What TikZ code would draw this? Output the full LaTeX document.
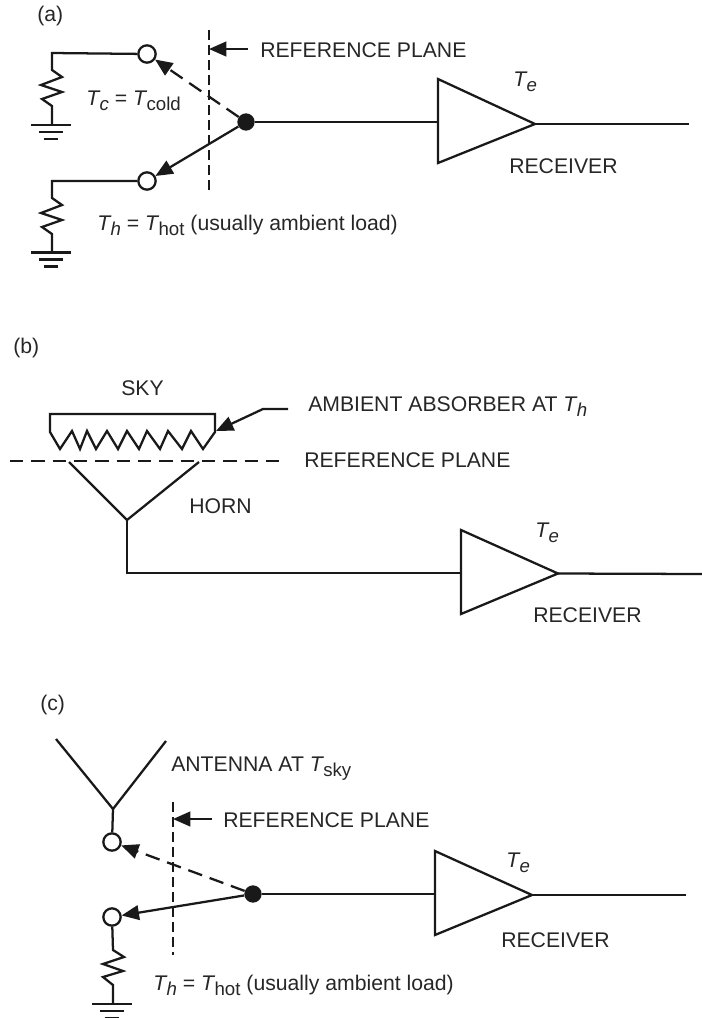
\documentclass[tikz,border=0pt]{standalone}
\usepackage{fontspec}
\setmainfont{Liberation Sans}
\usetikzlibrary{arrows.meta}
\newcommand{\Tsub}[2]{\textit{#1}\kern-0.6pt\raisebox{-3.75pt}{\fontsize{14pt}{16pt}\selectfont #2}}
\tikzset{
  x=0.75pt,y=-0.75pt,
  wire/.style={draw=black!90,line width=1.7pt,line join=miter},
  planeline/.style={wire,dash pattern=on 7.5pt off 3.75pt},
  skyline/.style={wire,dash pattern=on 10pt off 6pt},
  swdash/.style={wire,dash pattern=on 11pt off 6pt},
  tip/.style={-{Triangle[length=13pt,width=11pt]}},
  opencirc/.style={circle,draw=black!90,fill=white,line width=1.7pt,minimum size=13pt,inner sep=0pt},
  solidcirc/.style={circle,fill=black!90,minimum size=13pt,inner sep=0pt},
  lbl/.style={anchor=base west,inner sep=0pt,font=\fontsize{15.9pt}{18pt}\selectfont,text=black!85}
}
\newcommand{\groundat}[3]{% x, y, name prefix
  \coordinate (#3) at (#1,#2);
  \draw[wire] ([xshift=-15pt]#3) -- ([xshift=15pt]#3);
  \draw[wire] ([xshift=-9pt,yshift=-5.25pt]#3) -- ([xshift=9pt,yshift=-5.25pt]#3);
  \draw[wire] ([xshift=-5.6pt,yshift=-10.5pt]#3) -- ([xshift=5.6pt,yshift=-10.5pt]#3);
}
\begin{document}
\begin{tikzpicture}
\useasboundingbox (0,0) rectangle (702,1018);
% ---------- (a)
\node[lbl] (la) at (37,21) {(a)};
\node[opencirc] (a1) at (147,54) {};
\node[opencirc] (a2) at (147,181) {};
\node[solidcirc] (as) at (246,122) {};
\coordinate (a1c) at (52,53);
\coordinate (a2c) at (52,181);
\draw[wire] (a1) -- (a1c) -- (52,70) -- (62,77) -- (41,85) -- (62,92) -- (42,99) -- (52,106) -- (52,125);
\groundat{51}{125}{ag1}
\draw[wire] (a2) -- (a2c) -- (52,198) -- (62,205) -- (41,213) -- (62,220) -- (42,227) -- (52,234) -- (52,252.5);
\groundat{51}{252.5}{ag2}
\draw[swdash,tip] (as) -- (a1);
\draw[wire,tip] (as) -- (a2);
\coordinate (ap1) at (209,30);
\coordinate (ap2) at (209,190);
\draw[planeline] (ap1) -- (ap2);
\coordinate (apa) at (248,49);
\coordinate (apb) at (209,49);
\draw[wire,tip] (apa) -- (apb);
\coordinate (aA1) at (438,79);
\coordinate (aA2) at (438,163);
\coordinate (aA3) at (535,124);
\coordinate (aIn) at (438,122);
\coordinate (aOut) at (689,124);
\draw[wire] (as) -- (aIn);
\draw[wire] (aA1) -- (aA2) -- (aA3) -- cycle;
\draw[wire] (aA3) -- (aOut);
\node[lbl] (lap) at (260,57) {REFERENCE PLANE};
\node[lbl] (lac) at (86,105) {\Tsub{T}{\textit{c}} = \Tsub{T}{cold}};
\node[lbl] (lah) at (97,230) {\Tsub{T}{\textit{h}} = \Tsub{T}{hot} (usually ambient load)};
\node[lbl] (lae) at (513,86) {\Tsub{T}{\textit{e}}};
\node[lbl] (lar) at (509,173) {RECEIVER};
% ---------- (b)
\node[lbl] (lb) at (13,353) {(b)};
\node[lbl] (lsky) at (121,395) {SKY};
\draw[wire] (50,432) -- (50,414) -- (215,414) -- (215,432)
  -- (203,449) -- (191,431) -- (182,449) -- (168,431) -- (160,449) -- (147,431) -- (139,449) -- (127,431) -- (118,449) -- (107,431) -- (96,449) -- (87,431) -- (80,449) -- (72,431) -- (60,449) -- cycle;
\coordinate (bd1) at (10,461);
\coordinate (bd2) at (280,461);
\draw[skyline] (bd1) -- (bd2);
\coordinate (bh1) at (69,462);
\coordinate (bh2) at (127,520);
\coordinate (bh3) at (199,462);
\coordinate (bc) at (127,573);
\draw[wire] (bh1) -- (bh2) -- (bh3);
\coordinate (bA1) at (461,530);
\coordinate (bA2) at (461,614);
\coordinate (bA3) at (558,573.5);
\coordinate (bIn) at (461,573);
\coordinate (bOut) at (702,574);
\draw[wire] (bh2) -- (bc) -- (bIn);
\draw[wire] (bA1) -- (bA2) -- (bA3) -- cycle;
\draw[wire] (bA3) -- (bOut);
\coordinate (bar1) at (288,409);
\coordinate (bar2) at (263,409);
\coordinate (bar3) at (216,431);
\draw[wire,tip] (bar1) -- (bar2) -- (bar3);
\node[lbl] (lba) at (308,411) {AMBIENT ABSORBER AT \Tsub{T}{\textit{h}}};
\node[lbl] (lbp) at (304,467) {REFERENCE PLANE};
\node[lbl] (lbh) at (189,513) {HORN};
\node[lbl] (lbe) at (535,537) {\Tsub{T}{\textit{e}}};
\node[lbl] (lbr) at (533,622) {RECEIVER};
% ---------- (c)
\node[lbl] (lc) at (40,710) {(c)};
\coordinate (cy1) at (56,739);
\coordinate (cy2) at (113,809);
\coordinate (cy3) at (166,741);
\draw[wire] (cy1) -- (cy2) -- (cy3);
\node[opencirc] (c1) at (112,842) {};
\node[opencirc] (c2) at (112,917) {};
\node[solidcirc] (cs) at (253,894) {};
\draw[wire] (cy2) -- (c1);
\draw[wire] (c2) -- (113,950) -- (124,957) -- (103,964) -- (123,971) -- (103,977) -- (113,985) -- (113,1004);
\groundat{112}{1004}{cg}
\draw[swdash,tip] (cs) -- (c1);
\draw[wire,tip] (cs) -- (c2);
\coordinate (cp1) at (173,802);
\coordinate (cp2) at (173,955);
\draw[planeline] (cp1) -- (cp2);
\coordinate (cpa) at (212,819);
\coordinate (cpb) at (173,819);
\draw[wire,tip] (cpa) -- (cpb);
\coordinate (cA1) at (435,851);
\coordinate (cA2) at (435,935);
\coordinate (cA3) at (532,895);
\coordinate (cIn) at (435,894);
\coordinate (cOut) at (686,895);
\draw[wire] (cs) -- (cIn);
\draw[wire] (cA1) -- (cA2) -- (cA3) -- cycle;
\draw[wire] (cA3) -- (cOut);
\node[lbl] (lca) at (171,771) {ANTENNA AT \Tsub{T}{sky}};
\node[lbl] (lcp) at (223,827) {REFERENCE PLANE};
\node[lbl] (lch) at (153,990) {\Tsub{T}{\textit{h}} = \Tsub{T}{hot} (usually ambient load)};
\node[lbl] (lce) at (506,867) {\Tsub{T}{\textit{e}}};
\node[lbl] (lcr) at (501,947) {RECEIVER};
\end{tikzpicture}
\end{document}
